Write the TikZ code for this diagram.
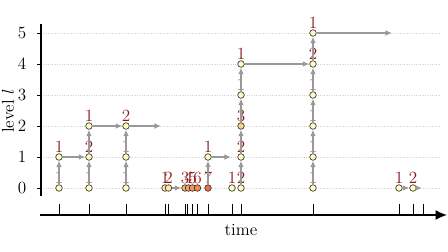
\documentclass[tikz,border=0pt]{standalone}
\usetikzlibrary{arrows.meta}
\definecolor{labred}{HTML}{8B1A1A}
\definecolor{evpale}{HTML}{FFFCC0}
\definecolor{evlight}{HTML}{FFE8A4}
\definecolor{evmid}{HTML}{FDD283}
\definecolor{evorA}{HTML}{FBB36B}
\definecolor{evorB}{HTML}{F9A15C}
\definecolor{evorC}{HTML}{F79656}
\definecolor{evorD}{HTML}{F5894F}
\definecolor{evred}{HTML}{F06A45}
\tikzset{
  ev/.style={circle, draw=black!80, line width=0.45pt, inner sep=0pt, minimum size=4.6pt, fill=#1},
  ev/.default=evpale,
  lab/.style={text=labred, inner sep=0.4pt},
  push/.style={draw=black!40, line width=1.05pt, -{Latex[length=4.6pt,width=4pt]}},
  gridl/.style={densely dotted, black!18, line width=0.6pt},
}
\begin{document}
\begin{tikzpicture}[x=0.7pt,y=-0.7pt,font=\large]
\useasboundingbox (0,0) rectangle (448,252);
% grid and axes
\foreach \l in {0,...,5} {
  \draw[gridl] (41,188-31*\l) -- (440,188-31*\l);
  \draw[line width=0.6pt] (37,188-31*\l) -- (41,188-31*\l);
  \node at (22,188-31*\l) {\l};
}
\draw[line width=1pt] (41,24) -- (41,196);
\node[rotate=90] at (8,111) {level $l$};
\draw[line width=1pt, -{Latex[length=8pt,width=7pt]}] (40,215) -- (447,215);
\node at (241,230) {time};
\foreach \t in {59,89,126,165,168,185,187.5,192,197.5,208,232,241,313,399,413,423}
  \draw[line width=0.6pt] (\t,204) -- (\t,215);
% events
\node[ev, label={[lab]above:1}] (a0) at (59,188) {};
\node[ev, label={[lab]above:1}] (a1) at (59,157) {};
\node[ev, label={[lab]above:1}] (b0) at (89,188) {};
\node[ev, label={[lab]above:2}] (b1) at (89,157) {};
\node[ev, label={[lab]above:1}] (b2) at (89,126) {};
\node[ev, label={[lab]above:1}] (c0) at (126,188) {};
\node[ev, label={[lab]above:1}] (c1) at (126,157) {};
\node[ev, label={[lab]above:2}] (c2) at (126,126) {};
\coordinate (c2end) at (161,126);
\node[ev=evlight, label={[lab]above:1}] (d0) at (165,188) {};
\node[ev=evlight, label={[lab]above:2}] (e0) at (168.5,188) {};
\node[ev=evorA, label={[lab]above:3}] (f0) at (185,188) {};
\node[ev=evorB, label={[lab]above:4}] (g0) at (188.5,188) {};
\node[ev=evorC, label={[lab]above:5}] (h0) at (192.5,188) {};
\node[ev=evorD, label={[lab]above:6}] (i0) at (197.5,188) {};
\node[ev=evred, label={[lab]above:7}] (j0) at (208,188) {};
\node[ev, label={[lab]above:1}] (j1) at (208,157) {};
\coordinate (j1end) at (231,157);
\node[ev, label={[lab]above:1}] (k0) at (232,188) {};
\node[ev, label={[lab]above:2}] (m0) at (241,188) {};
\node[ev, label={[lab]above:2}] (m1) at (241,157) {};
\node[ev=evmid, label={[lab]above:3}] (m2) at (241,126) {};
\node[ev, label={[lab]above:1}] (m3) at (241,95) {};
\node[ev, label={[lab]above:1}] (m4) at (241,64) {};
\node[ev, label={[lab]above:1}] (p0) at (313,188) {};
\node[ev, label={[lab]above:1}] (p1) at (313,157) {};
\node[ev, label={[lab]above:1}] (p2) at (313,126) {};
\node[ev, label={[lab]above:1}] (p3) at (313,95) {};
\node[ev, label={[lab]above:2}] (p4) at (313,64) {};
\node[ev, label={[lab]above:1}] (p5) at (313,33) {};
\coordinate (p5end) at (392,33);
\node[ev, label={[lab]above:1}] (q0) at (399,188) {};
\node[ev, label={[lab]above:2}] (r0) at (413,188) {};
\coordinate (r0end) at (422,188);
% promotions
\draw[push] (a0) -- (a1);
\draw[push] (b0) -- (b1);
\draw[push] (b1) -- (b2);
\draw[push] (c0) -- (c1);
\draw[push] (c1) -- (c2);
\draw[push] (j0) -- (j1);
\draw[push] (m0) -- (m1);
\draw[push] (m1) -- (m2);
\draw[push] (m2) -- (m3);
\draw[push] (m3) -- (m4);
\draw[push] (p0) -- (p1);
\draw[push] (p1) -- (p2);
\draw[push] (p2) -- (p3);
\draw[push] (p3) -- (p4);
\draw[push] (p4) -- (p5);
% carries along a level
\draw[push] (a1) -- (b1);
\draw[push] (b2) -- (c2);
\draw[push] (c2) -- (c2end);
\draw[push] (e0) -- (f0);
\draw[push] (j1) -- (j1end);
\draw[push] (m4) -- (p4);
\draw[push] (p5) -- (p5end);
\draw[push] (q0) -- (r0);
\draw[push] (r0) -- (r0end);
\end{tikzpicture}
\end{document}
